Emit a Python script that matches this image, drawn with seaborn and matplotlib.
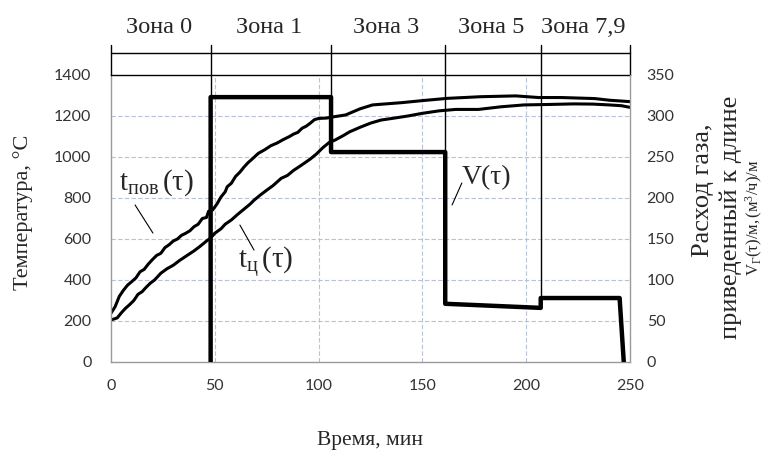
import numpy as np
import pandas as pd
import matplotlib
matplotlib.use('Agg')
import matplotlib.pyplot as plt
import seaborn as sns

# ================= данные =================
# температура поверхности t_пов(τ), °C
T_SURF_TIME = [0, 2, 4, 6, 8, 10, 12, 14, 16, 18, 20, 22, 24, 26, 28, 30, 32, 34, 36, 38,
               40, 42, 44, 46, 47, 49, 51, 53, 55, 56, 58, 60, 62, 64, 66, 68, 71, 74, 77,
               80, 83, 86, 88, 90, 92, 94, 96, 98, 100, 104, 106, 113, 120, 126, 140, 150,
               162, 178, 195, 206, 217, 233, 240, 250]
T_SURF = [238, 270, 320, 350, 375, 392, 410, 440, 452, 478, 500, 520, 530, 558, 572, 590,
          600, 618, 628, 640, 660, 672, 700, 705, 735, 742, 770, 805, 830, 855, 872, 905,
          925, 950, 972, 990, 1018, 1035, 1055, 1068, 1085, 1100, 1112, 1120, 1140, 1150,
          1165, 1182, 1188, 1190, 1194, 1205, 1235, 1254, 1265, 1275, 1286, 1294, 1298,
          1290, 1290, 1285, 1277, 1270]

# температура центра t_ц(τ), °C
T_CORE_TIME = [0, 3, 5, 7, 9, 11, 13, 15, 17, 19, 21, 24, 27, 30, 33, 37, 40, 43, 46, 48,
               50, 53, 55, 58, 61, 64, 67, 69, 72, 75, 78, 82, 85, 88, 91, 93, 96, 99, 102,
               105, 108, 112, 115, 120, 125, 130, 136, 143, 150, 158, 166, 177, 188, 199,
               210, 223, 232, 240, 246, 250]
T_CORE = [205, 215, 240, 262, 280, 300, 330, 343, 365, 385, 400, 433, 455, 472, 495, 522,
          542, 565, 590, 605, 628, 650, 672, 693, 720, 745, 770, 790, 815, 838, 860, 896,
          910, 935, 955, 969, 990, 1015, 1045, 1070, 1083, 1105, 1123, 1145, 1165, 1180,
          1189, 1200, 1213, 1225, 1232, 1232, 1245, 1254, 1256, 1259, 1258, 1254, 1250, 1242]

# расход газа V(τ), (м3/ч)/м
V_TIME = [48, 48, 106, 106, 161, 161, 207, 207, 245, 247]
V_GAS = [0, 323, 323, 256, 256, 71, 66, 78, 78, 0]

ZONE_EDGES = [0, 48, 106, 161, 207, 250]
ZONE_NAMES = ['Зона 0', 'Зона 1', 'Зона 3', 'Зона 5', 'Зона 7,9']

X_TICKS = [0, 50, 100, 150, 200, 250]
Y_TICKS = [0, 200, 400, 600, 800, 1000, 1200, 1400]
Y2_TICKS = [0, 50, 100, 150, 200, 250, 300, 350]

# ================= стиль =================
sns.set_theme(style='white')
plt.rcParams['font.family'] = ['Liberation Serif', 'DejaVu Serif']
plt.rcParams['mathtext.fontset'] = 'custom'
plt.rcParams['mathtext.rm'] = 'Liberation Serif'
plt.rcParams['mathtext.it'] = 'Liberation Serif:italic'

TICK_FONT = 'Lato'
K = Y_TICKS[-1] / Y2_TICKS[-1]   # переход от правой шкалы к левой

df_surf = pd.DataFrame({'t': T_SURF_TIME, 'T': T_SURF})
df_core = pd.DataFrame({'t': T_CORE_TIME, 'T': T_CORE})
df_v = pd.DataFrame({'t': V_TIME, 'V': V_GAS})

fig = plt.figure(figsize=(7.75, 4.55), dpi=100)
ax = fig.add_axes([0.1432, 0.2044, 0.6697, 0.6308])
ax2 = ax.twinx()

# температурные кривые
sns.lineplot(data=df_surf, x='t', y='T', ax=ax, color='black', lw=2.2,
             estimator=None, sort=False)
sns.lineplot(data=df_core, x='t', y='T', ax=ax, color='black', lw=2.2,
             estimator=None, sort=False)
# расход газа
sns.lineplot(data=df_v, x='t', y='V', ax=ax2, color='black', lw=3.2,
             estimator=None, sort=False)

ax.set_xlim(X_TICKS[0], X_TICKS[-1])
ax.set_ylim(Y_TICKS[0], Y_TICKS[-1])
ax2.set_ylim(Y2_TICKS[0], Y2_TICKS[-1])
ax.set_xticks(X_TICKS)
ax.set_yticks(Y_TICKS)
ax2.set_yticks(Y2_TICKS)

# сетка
for yv in Y_TICKS[1:-1]:
    ax.axhline(yv, color='#b9c2d6', lw=0.8, ls=(0, (4, 2)), zorder=0)
for xv in X_TICKS[1:-1]:
    ax.axvline(xv, color='#b9c2d6', lw=0.8, ls=(0, (4, 2)), zorder=0)

# рамка
for side in ['left', 'bottom']:
    ax.spines[side].set_color('#9a9a9a')
    ax.spines[side].set_linewidth(1.0)
ax.spines['right'].set_visible(False)
ax.spines['top'].set_color('black')
ax.spines['top'].set_linewidth(1.0)
for side in ['left', 'bottom', 'top']:
    ax2.spines[side].set_visible(False)
ax2.spines['right'].set_color('#9a9a9a')
ax2.spines['right'].set_linewidth(1.0)

ax.tick_params(axis='both', length=0, labelsize=11.5, labelcolor='#333333')
ax.tick_params(axis='x', pad=12)
ax.tick_params(axis='y', pad=14)
ax2.tick_params(axis='y', length=0, labelsize=11.5, labelcolor='#333333', pad=12)
for lab in ax.get_xticklabels() + ax.get_yticklabels() + ax2.get_yticklabels():
    lab.set_fontfamily(TICK_FONT)

ax.set_xlabel('')
ax.set_ylabel('')
ax2.set_ylabel('')

# шапка с зонами
y_line = Y_TICKS[-1] + 107
y_top = Y_TICKS[-1] + 146
y_text = Y_TICKS[-1] + 232
ax.plot([ZONE_EDGES[0], ZONE_EDGES[-1]], [y_line, y_line], color='black', lw=1.0,
        clip_on=False)
v_time = np.array(V_TIME)
v_gas = np.array(V_GAS)
for e in ZONE_EDGES:
    if e in (ZONE_EDGES[0], ZONE_EDGES[-1]):
        bottom = Y_TICKS[-1]
    else:
        bottom = v_gas[v_time == e].max() * K
    ax.plot([e, e], [bottom, y_top], color='black', lw=1.0, clip_on=False, zorder=3)
for name, a, b in zip(ZONE_NAMES, ZONE_EDGES[:-1], ZONE_EDGES[1:]):
    ax.text((a + b) / 2 - 1, y_text, name, ha='center', va='center', fontsize=17.5,
            clip_on=False)

# подписи кривых
ax.text(4, 873, r'$\mathrm{t}_{\mathrm{пов}}\,\mathrm{(τ)}$', fontsize=21, va='center')
ax.plot([11.6, 20.2], [766, 629], color='black', lw=0.8)
ax.text(61, 483, r'$\mathrm{t}_{\mathrm{ц}}\,\mathrm{(τ)}$', fontsize=21, va='center')
ax.plot([62.1, 68.9], [668, 546], color='black', lw=0.8)
ax.text(169, 898, 'V(τ)', fontsize=20, va='center')
ax.plot([169, 164.3], [873, 766], color='black', lw=0.8)

# подписи осей
fig.text(0.030, 1 - 212 / 455, 'Температура, °C', rotation=90, ha='center', va='center',
         fontsize=16)
fig.text(0.478, 1 - 440 / 455, 'Время, мин', ha='center', va='center', fontsize=15.5)
fig.text(703 / 775, 1 - 190 / 455, 'Расход газа,', rotation=90, ha='center', va='center',
         fontsize=19)
fig.text(731 / 775, 1 - 217 / 455, 'приведенный к длине', rotation=90, ha='center',
         va='center', fontsize=19)
fig.text(754 / 775, 1 - 218 / 455,
         r'$\mathrm{V}_{\mathrm{Г}}\mathrm{(τ)/м,(м}^{3}\mathrm{/ч)/м}$',
         rotation=90, ha='center', va='center', fontsize=12)

fig.savefig('out.png', dpi=100)
